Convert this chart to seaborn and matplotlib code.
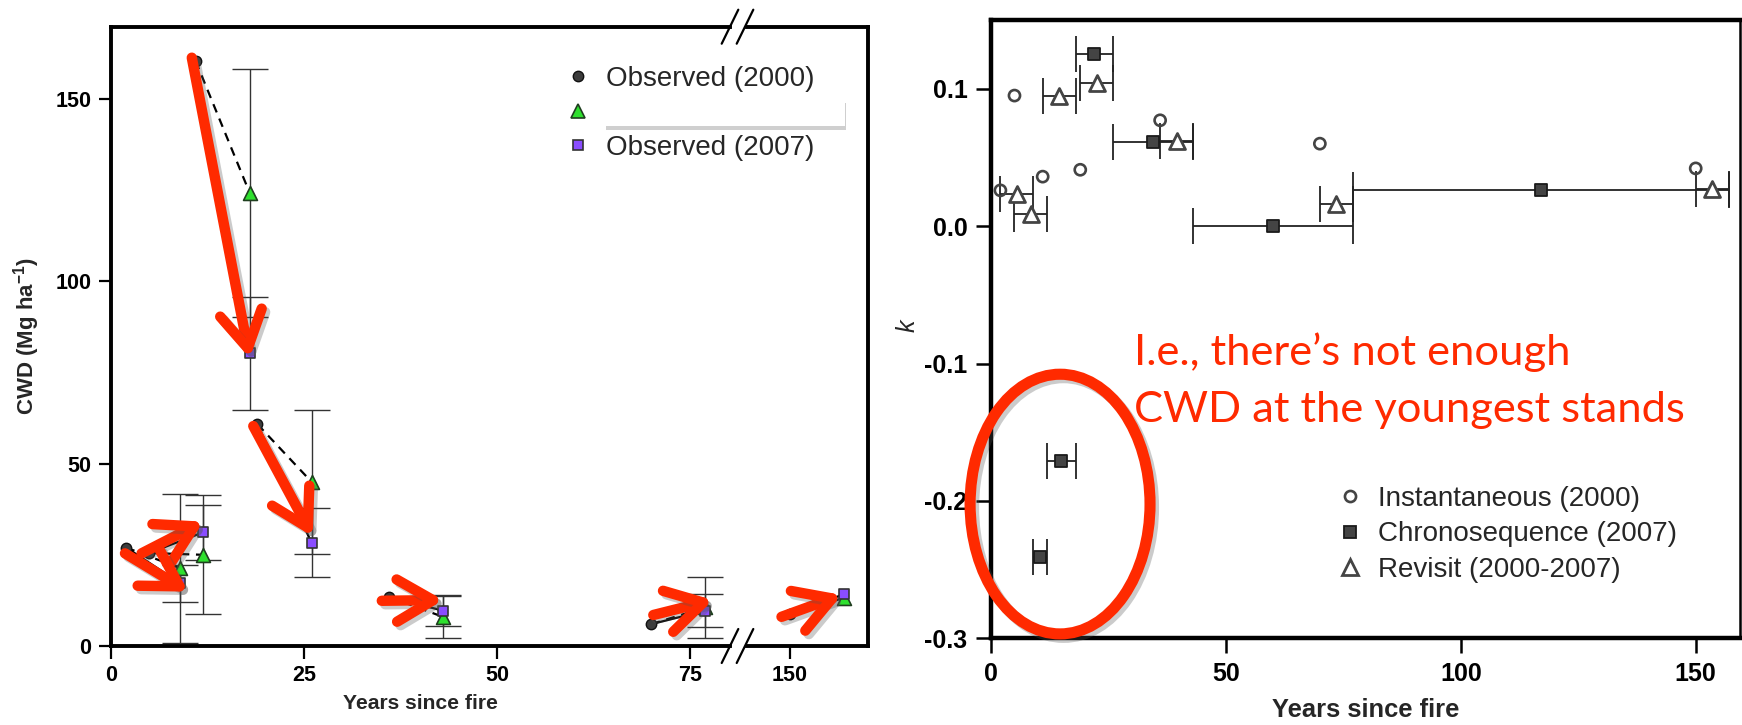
import numpy as np
import pandas as pd
import seaborn as sns
import matplotlib
matplotlib.use("Agg")
import matplotlib.pyplot as plt
from matplotlib.patches import Ellipse, Rectangle
from matplotlib.lines import Line2D
import matplotlib.patheffects as pe

# ---------------- data (left panel: CWD) ----------------
age_2000 = [2, 5, 11, 19, 36, 70, 150]
cwd_obs_2000 = [27.0, 25.5, 160.4, 60.8, 13.5, 6.0, 8.8]
age_2007 = [9, 12, 18, 26, 43, 77, 157]
cwd_pred_2007 = [21.3, 25.0, 124.2, 45.0, 8.0, 10.6, 13.2]
cwd_pred_err = [20.5, 16.3, 34.0, 19.8, 5.7, 8.4, 0.0]
cwd_obs_2007 = [17.2, 31.2, 80.2, 28.3, 9.7, 9.7, 14.2]
cwd_obs_err = [5.0, 7.5, 15.5, 9.4, 4.3, 4.6, 0.0]

# ---------------- data (right panel: k) ----------------
k_inst_age = [2, 5, 11, 19, 36, 70, 150]
k_inst = [0.026, 0.095, 0.036, 0.041, 0.077, 0.060, 0.042]
k_chrono_age = [10.5, 15, 22, 34.5, 60, 117]
k_chrono_age_err = [1.5, 3, 4, 8.5, 17, 40]
k_chrono = [-0.241, -0.171, 0.125, 0.061, 0.0, 0.026]
k_revisit_age = [5.5, 8.5, 14.5, 22.5, 39.5, 73.5, 153.5]
k_revisit_age_err = [3.5, 3.5, 3.5, 3.5, 3.5, 3.5, 3.5]
k_revisit = [0.023, 0.009, 0.095, 0.104, 0.062, 0.016, 0.027]

left_xticks_a = [0, 25, 50, 75]
left_xticks_b = [150]
left_yticks = [0, 50, 100, 150]
right_xticks = [0, 50, 100, 150]
right_yticks = [-0.3, -0.2, -0.1, 0.0, 0.1]
right_yticklabels = ["-0.3", "-0.2", "-0.1", "0.0", "0.1"]

legend_left = ["Observed (2000)", " ", "Observed (2007)"]
legend_right = ["Instantaneous (2000)", "Chronosequence (2007)", "Revisit (2000-2007)"]
note_text = "I.e., there\u2019s not enough\nCWD at the youngest stands"

# red annotation arrows (start, tip) in data coords of the left panel
arrows_a = [((10.5, 161.3), (18.0, 78.9)),
            ((18.46, 60.3), (26.15, 30.0)),
            ((4.0, 25.4), (12.0, 34.1)),
            ((1.85, 25.4), (10.05, 14.9)),
            ((35.1, 12.4), (43.06, 12.6)),
            ((70.25, 8.5), (78.0, 12.6))]
arrows_b = [((148.9, 8.0), (156.7, 14.0))]

# ---------------- style ----------------
sns.set_theme(style="ticks")
plt.rcParams["font.family"] = ["Liberation Sans", "DejaVu Sans"]
plt.rcParams["axes.unicode_minus"] = False
plt.rcParams["mathtext.fontset"] = "custom"
plt.rcParams["mathtext.rm"] = "Liberation Sans"
plt.rcParams["mathtext.bf"] = "Liberation Sans:bold"
plt.rcParams["mathtext.it"] = "Liberation Sans:italic"

W, H = 1742, 725
fig = plt.figure(figsize=(W / 100, H / 100), dpi=100)
fig.patch.set_facecolor("white")


def fx(px):
    return px / W


def fy(py):
    return 1 - py / H


# axes in pixel coordinates
L_left, L_break_a, L_break_b, L_right = 110.7, 730.0, 746.7, 868.0
L_top, L_bot = 26.7, 646.0
R_left, R_right, R_top, R_bot = 991.0, 1740.0, 20.0, 638.3
px_per_unit = 7.724

ax1 = fig.add_axes([fx(L_left), fy(L_bot), fx(L_break_a - L_left), (L_bot - L_top) / H])
ax2 = fig.add_axes([fx(L_break_b), fy(L_bot), fx(L_right - L_break_b), (L_bot - L_top) / H])
ax3 = fig.add_axes([fx(R_left), fy(R_bot), fx(R_right - R_left), (R_bot - R_top) / H])

ax1.set_xlim(0, (L_break_a - L_left) / px_per_unit)
ax2.set_xlim(150 - (790 - L_break_b) / px_per_unit, 150 + (L_right - 790) / px_per_unit)
for a in (ax1, ax2):
    a.set_ylim(0, 169.8)

RED = "#FF2A00"
shadow = [pe.SimpleLineShadow(offset=(2.5, -2.5), shadow_color="#555555", alpha=0.3), pe.Normal()]

for a in (ax1, ax2):
    a.set_facecolor("none")
    # connecting lines
    for i in range(len(age_2000)):
        a.plot([age_2000[i], age_2007[i]], [cwd_obs_2000[i], cwd_pred_2007[i]],
               color="black", lw=1.6, ls=(0, (4, 3)), zorder=3)
        a.plot([age_2000[i], age_2007[i]], [cwd_obs_2000[i], cwd_obs_2007[i]],
               color="black", lw=1.6, ls="-", zorder=3)
    # error bars
    pa = np.array(age_2007)
    pe_ = np.array(cwd_pred_err)
    m = pe_ > 0
    a.errorbar(pa[m], np.array(cwd_pred_2007)[m], yerr=pe_[m], fmt="none",
               ecolor="#333333", elinewidth=1.0, capsize=13, capthick=1.0, zorder=2)
    oe = np.array(cwd_obs_err)
    m2 = oe > 0
    a.errorbar(pa[m2], np.array(cwd_obs_2007)[m2], yerr=oe[m2], fmt="none",
               ecolor="#333333", elinewidth=1.0, capsize=13, capthick=1.0, zorder=2)
    # markers
    sns.scatterplot(x=age_2000, y=cwd_obs_2000, ax=a, marker="o", s=7.5 ** 2,
                    color="#3c3c3c", edgecolor="#111111", linewidth=1.0, zorder=4, legend=False)
    sns.scatterplot(x=age_2007, y=cwd_pred_2007, ax=a, marker="^", s=10 ** 2,
                    color="#2ee02e", edgecolor="#1f3f1f", linewidth=1.2, zorder=4, legend=False)
    sns.scatterplot(x=age_2007, y=cwd_obs_2007, ax=a, marker="s", s=7.5 ** 2,
                    color="#8a4dff", edgecolor="#333333", linewidth=1.2, zorder=5, legend=False)
    for sp in ("top", "bottom", "left", "right"):
        a.spines[sp].set_linewidth(2.8)
        a.spines[sp].set_color("black")
    a.tick_params(direction="out", length=9, width=1.6, labelsize=15.5, color="black",
                  labelcolor="black", pad=5)

arrow_style = dict(arrowstyle="->,head_length=0.65,head_width=0.38", mutation_scale=40,
                   lw=7.5, color=RED, shrinkA=0, shrinkB=0, path_effects=shadow)
for (s, t) in arrows_a:
    ax1.annotate("", xy=t, xytext=s, annotation_clip=False, arrowprops=arrow_style, zorder=7)
for (s, t) in arrows_b:
    ax2.annotate("", xy=t, xytext=s, annotation_clip=False, arrowprops=arrow_style, zorder=7)

ax1.spines["right"].set_visible(False)
ax2.spines["left"].set_visible(False)
ax2.tick_params(axis="y", left=False, labelleft=False)
ax1.set_xticks(left_xticks_a)
ax1.set_xticklabels([str(v) for v in left_xticks_a], fontweight="bold")
ax2.set_xticks(left_xticks_b)
ax2.set_xticklabels([str(v) for v in left_xticks_b], fontweight="bold")
ax1.set_yticks(left_yticks)
ax1.set_yticklabels([str(v) for v in left_yticks], fontweight="bold")
ax2.set_yticks([])

ax1.set_xlabel("Years since fire", fontsize=15.2, fontweight="bold")
ax1.set_ylabel(r"CWD (Mg ha$^{\mathbf{-1}}$)", fontsize=16, fontweight="bold")
ax1.yaxis.set_label_coords((42 - L_left) / (L_break_a - L_left), 0.5)
ax1.xaxis.set_label_coords(0.5, -(694 - L_bot) / (L_bot - L_top))

# break marks
for yc in (L_top, L_bot):
    for x0 in (721.7, 736.7):
        fig.add_artist(Line2D([fx(x0), fx(x0 + 16.6)], [fy(yc + 17), fy(yc - 17)],
                              color="black", lw=1.6))

# left legend
hl = [Line2D([], [], ls="", marker="o", ms=7.5, mfc="#3c3c3c", mec="#111111", mew=1.0),
      Line2D([], [], ls="", marker="^", ms=10, mfc="#2ee02e", mec="#1f3f1f", mew=1.2),
      Line2D([], [], ls="", marker="s", ms=7.5, mfc="#8a4dff", mec="#333333", mew=1.2)]
fig.legend(hl, legend_left, loc="upper left", bbox_to_anchor=(fx(564), fy(66)),
           bbox_transform=fig.transFigure, frameon=False, fontsize=20,
           handlelength=1.0, handletextpad=0.5, borderpad=0, borderaxespad=0,
           labelspacing=0.30)

# white box hiding the middle legend label
box = Rectangle((fx(605), fy(126)), fx(845 - 605), (126 - 99) / H, transform=fig.transFigure,
                facecolor="white", edgecolor="none", zorder=10,
                path_effects=[pe.SimplePatchShadow(offset=(1, -3), shadow_rgbFace="#777777", alpha=0.35),
                              pe.Normal()])
fig.add_artist(box)

# ---------------- right panel ----------------
ax3.set_xlim(0, (R_right - R_left) / 4.698)
ax3.set_ylim(-0.3, 0.15)
ax3.set_facecolor("white")
ax3.errorbar(k_chrono_age, k_chrono, xerr=k_chrono_age_err, fmt="none", ecolor="#222222",
             elinewidth=1.3, capsize=13, capthick=1.3, zorder=2)
ax3.errorbar(k_revisit_age, k_revisit, xerr=k_revisit_age_err, fmt="none", ecolor="#222222",
             elinewidth=1.3, capsize=13, capthick=1.3, zorder=2)
sns.scatterplot(x=k_inst_age, y=k_inst, ax=ax3, marker="o", s=8 ** 2, facecolor="none",
                edgecolor="#444444", linewidth=1.9, zorder=4, legend=False)
sns.scatterplot(x=k_chrono_age, y=k_chrono, ax=ax3, marker="s", s=8.5 ** 2, color="#444444",
                edgecolor="#1a1a1a", linewidth=1.3, zorder=4, legend=False)
sns.scatterplot(x=k_revisit_age, y=k_revisit, ax=ax3, marker="^", s=11.5 ** 2, facecolor="white",
                edgecolor="#444444", linewidth=2.0, zorder=4, legend=False)
ax3.set_xticks(right_xticks)
ax3.set_xticklabels([str(v) for v in right_xticks], fontweight="bold")
ax3.set_yticks(right_yticks)
ax3.set_yticklabels(right_yticklabels, fontweight="bold")
ax3.tick_params(direction="out", length=11, width=1.8, labelsize=18, color="black",
                labelcolor="black", pad=6)
for sp in ("top", "bottom", "left"):
    ax3.spines[sp].set_linewidth(3.2)
    ax3.spines[sp].set_color("black")
ax3.spines["right"].set_linewidth(1.8)
ax3.spines["right"].set_color("black")
ax3.set_xlabel("Years since fire", fontsize=18.4, fontweight="bold")
ax3.xaxis.set_label_coords(0.5, -(698 - R_bot) / (R_bot - R_top))
ax3.set_ylabel("k", fontsize=18, style="italic")
ax3.yaxis.set_label_coords((920 - R_left) / (R_right - R_left), 1 - (326 - R_top) / (R_bot - R_top))

hr = [Line2D([], [], ls="", marker="o", ms=8, mfc="none", mec="#444444", mew=1.9),
      Line2D([], [], ls="", marker="s", ms=8.5, mfc="#444444", mec="#1a1a1a", mew=1.3),
      Line2D([], [], ls="", marker="^", ms=11.5, mfc="white", mec="#444444", mew=2.0)]
ax3.legend(hr, legend_right, loc="upper left", bbox_to_anchor=(fx(1336), fy(486)),
           bbox_transform=fig.transFigure, frameon=False, fontsize=20,
           handlelength=1.0, handletextpad=0.5, borderpad=0, borderaxespad=0,
           labelspacing=0.34)

# red ellipse and note
ell = Ellipse((14.7, -0.2023), 38.3, 0.189, fill=False, edgecolor=RED, lw=8, clip_on=False,
              zorder=6, path_effects=shadow)
ax3.add_patch(ell)
fig.text(fx(1134), fy(332), note_text, color=RED, fontsize=31.3, family=["Lato", "DejaVu Sans"],
         ha="left", va="top", linespacing=1.62)

fig.savefig("out.png", dpi=100, facecolor="white")
